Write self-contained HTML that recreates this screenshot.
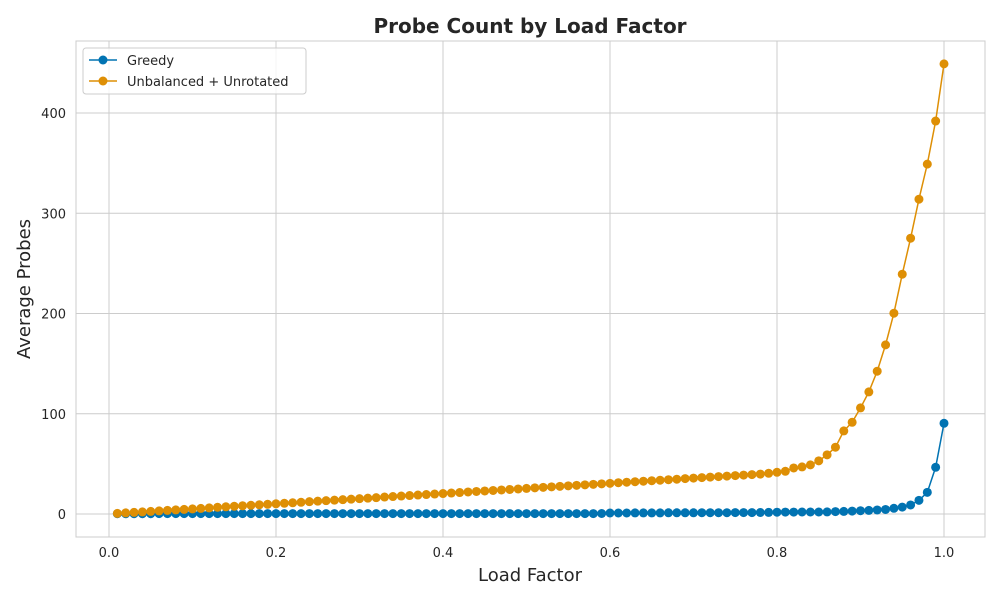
<!DOCTYPE html>
<html><head><meta charset="utf-8"><style>
body{margin:0;background:#fff;font-family:"Liberation Sans","DejaVu Sans",sans-serif;}
svg text{font-family:"DejaVu Sans","Liberation Sans",sans-serif;fill:#262626;}
</style></head><body>
<svg id="chart" width="1000" height="600">
<rect x="0" y="0" width="1000" height="600" fill="#fff"/>
<g id="grid"></g><g id="axes"></g><g id="series"></g>
<text x="530" y="33" text-anchor="middle" font-size="20" font-weight="bold">Probe Count by Load Factor</text>
<text x="530" y="581" text-anchor="middle" font-size="18">Load Factor</text>
<text x="30" y="289" text-anchor="middle" font-size="18" transform="rotate(-90 30 289)">Average Probes</text>
<g>
<rect x="83" y="48" width="223" height="46" rx="3" fill="#fff" fill-opacity="0.8" stroke="#ccc"/>
<line x1="89" y1="60" x2="117" y2="60" stroke="#0173b2" stroke-width="1.5"/><circle cx="103" cy="60" r="4.5" fill="#0173b2"/>
<text x="127" y="65" font-size="13">Greedy</text>
<line x1="89" y1="81" x2="117" y2="81" stroke="#de8f05" stroke-width="1.5"/><circle cx="103" cy="81" r="4.5" fill="#de8f05"/>
<text x="127" y="86" font-size="13">Unbalanced + Unrotated</text>
</g>
</svg>
<script>
const greedy=[0.3,0.3,0.3,0.3,0.3,0.4,0.4,0.4,0.4,0.4,0.4,0.4,0.4,0.4,0.4,0.4,0.4,0.4,0.4,0.4,0.4,0.4,0.4,0.4,0.4,0.4,0.4,0.4,0.4,0.4,0.4,0.4,0.4,0.4,0.4,0.4,0.4,0.4,0.4,0.4,0.4,0.4,0.4,0.4,0.4,0.4,0.4,0.4,0.4,0.4,0.4,0.4,0.4,0.4,0.4,0.4,0.4,0.4,0.5,1.0,1.0,1.0,1.1,1.1,1.1,1.1,1.2,1.2,1.2,1.2,1.3,1.3,1.3,1.3,1.4,1.4,1.4,1.5,1.6,1.8,1.9,1.9,2.0,2.0,2.0,2.1,2.4,2.6,2.9,3.3,3.6,4.0,4.5,5.7,6.9,9.0,13.6,21.6,46.6,90.5];
const unbalanced=[0.6,1.1,1.6,2.1,2.6,3.1,3.6,4.1,4.6,5.1,5.6,6.1,6.7,7.2,7.7,8.2,8.7,9.2,9.7,10.2,10.7,11.2,11.7,12.3,12.8,13.3,13.8,14.3,14.8,15.3,15.8,16.3,16.9,17.4,17.9,18.4,18.9,19.4,19.9,20.4,20.9,21.4,22.0,22.5,23.0,23.5,24.0,24.5,25.0,25.5,26.1,26.6,27.1,27.6,28.1,28.6,29.1,29.6,30.1,30.6,31.2,31.7,32.2,32.7,33.2,33.7,34.2,34.7,35.3,35.8,36.3,36.8,37.3,37.8,38.3,38.8,39.3,39.8,40.6,41.6,42.6,45.9,47.0,49.0,53.0,59.0,66.6,82.9,91.5,105.8,121.8,142.4,168.7,200.3,239.2,275.1,314.0,349.0,392.0,449.0];
const loadFactors=greedy.map((_,i)=>(i+1)/100);
const xTicks=[0,0.2,0.4,0.6,0.8,1.0];
const xTickLabels=["0.0","0.2","0.4","0.6","0.8","1.0"];
const yTicks=[0,100,200,300,400];
const L=76,R=985,T=41,B=537;
const xs=v=>109+v*835;
const ys=v=>514-v*1.0025;
const NS="http://www.w3.org/2000/svg";
function mk(tag,attrs,parent){const e=document.createElementNS(NS,tag);for(const k in attrs)e.setAttribute(k,attrs[k]);parent.appendChild(e);return e;}
const grid=document.getElementById('grid'),axes=document.getElementById('axes'),ser=document.getElementById('series');
xTicks.forEach((t,i)=>{
 const g=mk('line',{x1:xs(t),x2:xs(t),y1:T,y2:B,stroke:'#cccccc','stroke-width':1},grid);
 
 
 const tx=mk('text',{x:xs(t),y:B+20,'text-anchor':'middle','font-size':13},axes);
 tx.textContent=xTickLabels[i];
 
 
});
yTicks.forEach(t=>{
 const g=mk('line',{x1:L,x2:R,y1:ys(t),y2:ys(t),stroke:'#cccccc','stroke-width':1},grid);
 
 
 const tx=mk('text',{x:L-10,y:ys(t)+5,'text-anchor':'end','font-size':13},axes);
 tx.textContent=String(t);
 
 
});
const frame=mk('rect',{x:L,y:T,width:R-L,height:B-T,fill:'none',stroke:'#cccccc','stroke-width':1},axes);


function draw(vals,color,name){
 const g=mk('g',{},ser);
 
 
 const p=mk('polyline',{points:vals.map((v,i)=>xs(loadFactors[i])+','+ys(v)).join(' '),fill:'none',stroke:color,'stroke-width':1.5},g);
 
 
 vals.forEach((v,i)=>{
  const c=mk('circle',{cx:xs(loadFactors[i]),cy:ys(v),r:4.5,fill:color},g);
  
  
 });
}
draw(greedy,'#0173b2','greedy');
draw(unbalanced,'#de8f05','unbalanced');
</script>
</body></html>
